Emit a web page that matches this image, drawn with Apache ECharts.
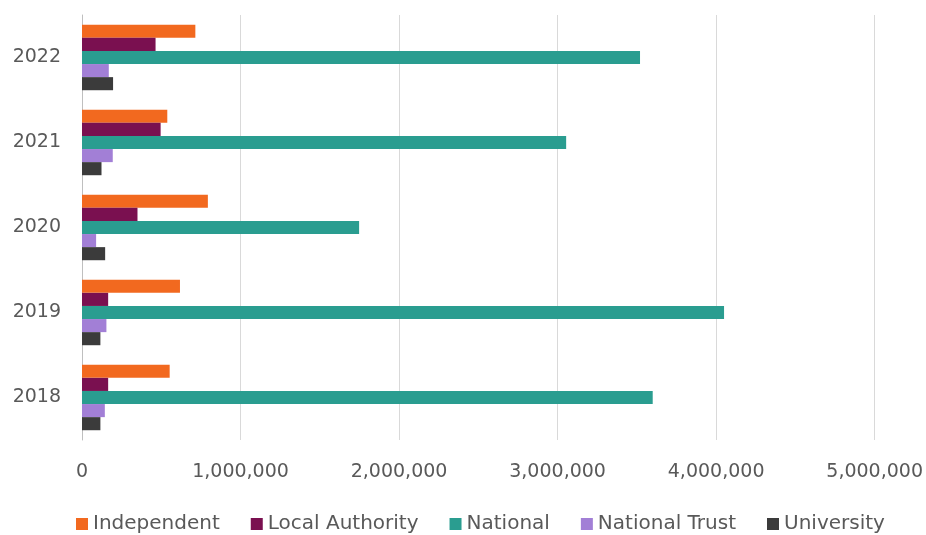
<!DOCTYPE html>
<html>
<head>
<meta charset="utf-8">
<script src="https://cdn.jsdelivr.net/npm/echarts@6/dist/echarts.min.js"></script>
<style>
html,body{margin:0;padding:0;background:#fff;}
#chart{width:926px;height:535px;}
</style>
</head>
<body>
<div id="chart"></div>
<script>
const years = ['2018', '2019', '2020', '2021', '2022'];
const seriesNames = ['Independent', 'Local Authority', 'National', 'National Trust', 'University'];
const independent = [553000, 618000, 794000, 538000, 715000];
const localAuthority = [165000, 165000, 350000, 496000, 464000];
const national = [3600000, 4050000, 1748000, 3054000, 3520000];
const nationalTrust = [144000, 154000, 89000, 194000, 169000];
const university = [116000, 116000, 146000, 123000, 196000];
const colors = ['#F2691F', '#7A1050', '#2A9D90', '#A27FD6', '#3B3B3B'];
const xTicks = [0, 1000000, 2000000, 3000000, 4000000, 5000000];

const values = [independent, localAuthority, national, nationalTrust, university];
const chart = echarts.init(document.getElementById('chart'));
chart.setOption({
  animation: false,
  color: colors,
  textStyle: { fontFamily: 'DejaVu Sans' },
  grid: { left: 82, right: 50, top: 15, bottom: 95 },
  legend: {
    top: 509,
    left: 71,
    itemWidth: 12,
    itemHeight: 12,
    itemGap: 31,
    icon: 'rect',
    textStyle: { fontSize: 20, color: '#595959', fontFamily: 'DejaVu Sans' },
    data: seriesNames
  },
  xAxis: {
    type: 'value',
    min: xTicks[0],
    max: xTicks[xTicks.length - 1],
    interval: 1000000,
    axisLine: { show: false },
    axisTick: { show: false },
    splitLine: { lineStyle: { color: '#D9D9D9', width: 1 } },
    axisLabel: {
      margin: 23,
      fontSize: 19,
      color: '#595959',
      formatter: v => v.toLocaleString('en-US')
    }
  },
  yAxis: {
    type: 'category',
    data: years,
    axisLine: { show: true, lineStyle: { color: '#BFBFBF' } },
    axisTick: { show: false },
    axisLabel: { margin: 21, fontSize: 19, color: '#595959' }
  },
  series: seriesNames.map((name, i) => ({
    name: name,
    type: 'bar',
    data: values[i],
    barGap: '0%',
    barCategoryGap: '23%',
    itemStyle: { color: colors[i] }
  }))
});
</script>
</body>
</html>
